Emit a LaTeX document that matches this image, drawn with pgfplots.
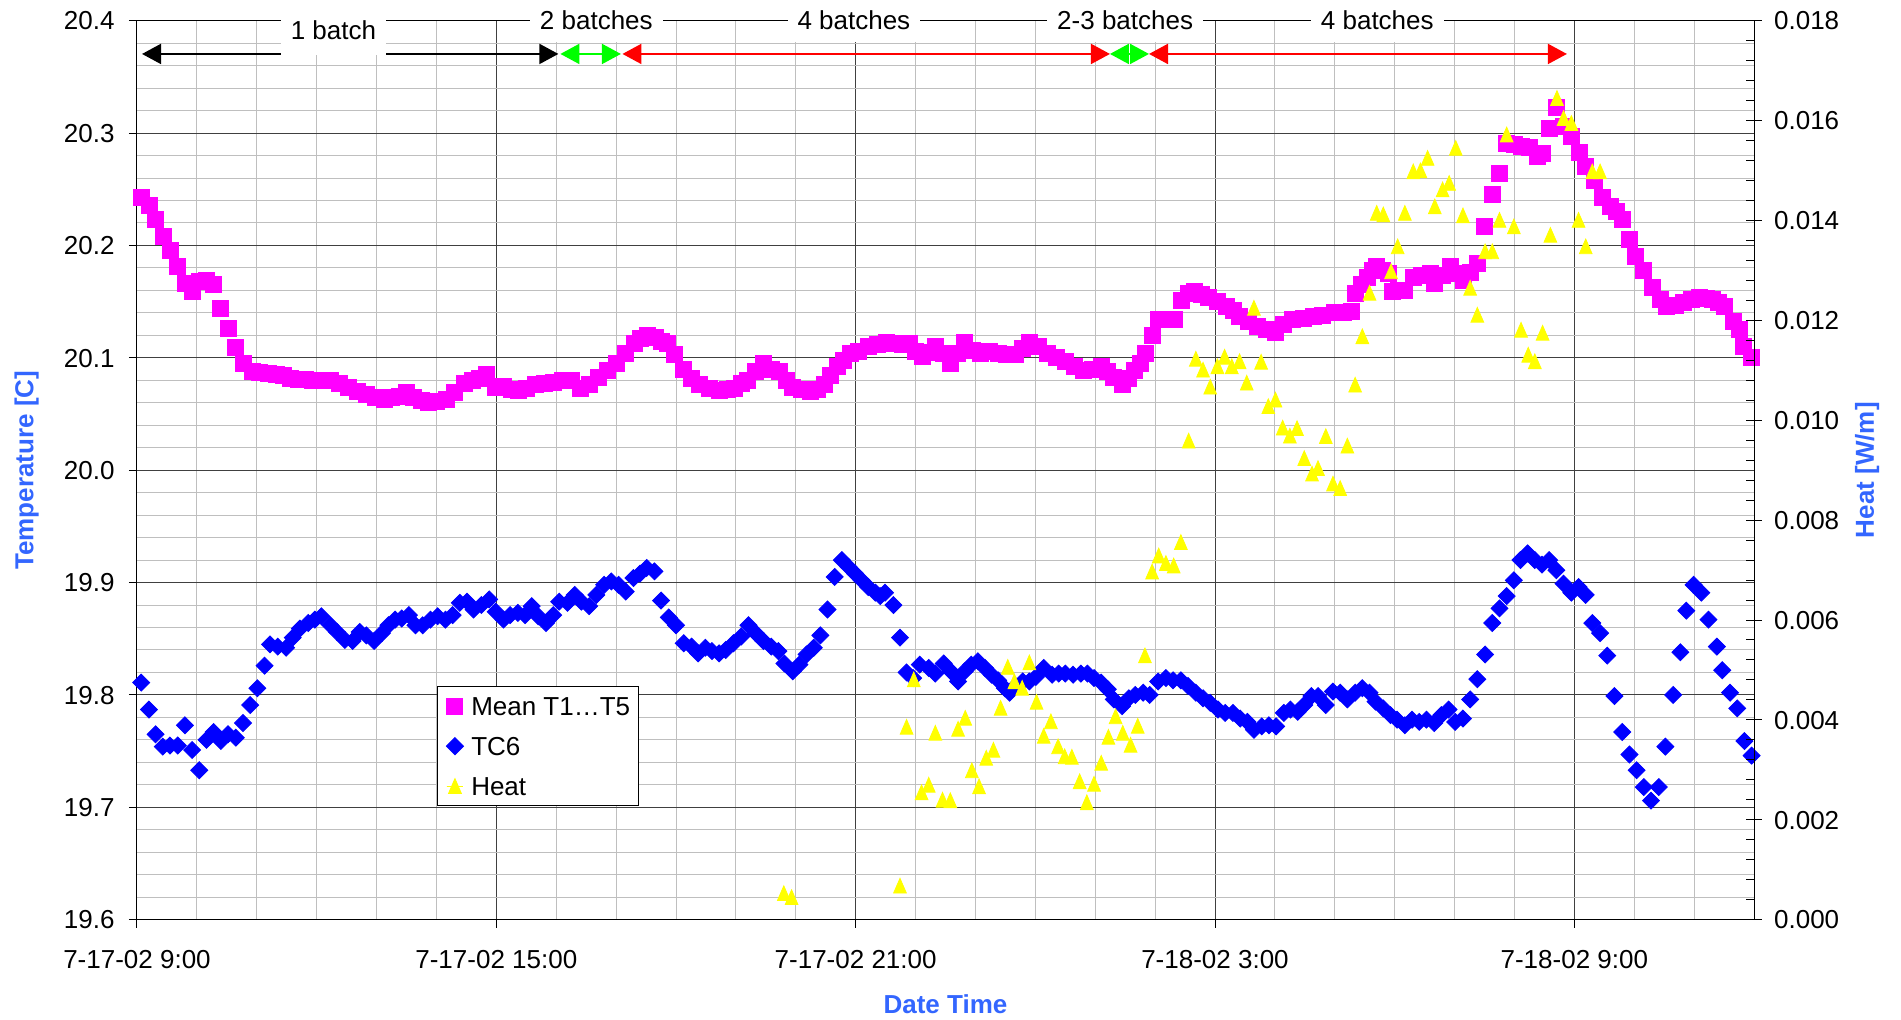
\documentclass[border=0pt]{standalone}
\usepackage{pgfplots}
\pgfplotsset{compat=1.18}
\usepackage{fontspec}
\setmainfont{Liberation Sans}
\usetikzlibrary{arrows.meta}
\definecolor{pinkc}{RGB}{255,0,255}
\definecolor{bluec}{RGB}{0,0,255}
\definecolor{yellowc}{RGB}{255,255,0}
\definecolor{labc}{RGB}{51,102,255}
\definecolor{greenc}{RGB}{0,255,0}
\definecolor{redc}{RGB}{255,0,0}
\newcommand{\ff}{\fontsize{13}{15.6}\selectfont}
\begin{document}
\begin{tikzpicture}
\begin{axis}[
  scale only axis, width=808.5pt, height=449.5pt,
  xmin=0, xmax=27, ymin=19.6, ymax=20.4, clip=false,
  xtick={0,6,12,18,24},
  xticklabels={7-17-02 9:00,7-17-02 15:00,7-17-02 21:00,7-18-02 3:00,7-18-02 9:00},
  minor xtick={1,2,3,4,5,7,8,9,10,11,13,14,15,16,17,19,20,21,22,23,25,26,27},
  ytick={19.6,19.7,19.8,19.9,20.0,20.1,20.2,20.3,20.4},
  minor ytick={19.62,19.64,19.66,19.68,19.72,19.74,19.76,19.78,19.82,19.84,19.86,19.88,19.92,19.94,19.96,19.98,20.02,20.04,20.06,20.08,20.12,20.14,20.16,20.18,20.22,20.24,20.26,20.28,20.32,20.34,20.36,20.38},
  grid=both,
  major grid style={black!75, line width=0.5pt},
  minor grid style={black!25, line width=0.5pt},
  tick align=outside, major tick length=4pt, minor tick length=0pt,
  xtick pos=bottom, ytick pos=left,
  axis line style={black, line width=0.5pt},
  tick style={black, line width=0.5pt},
  /pgf/number format/assume math mode=true,
  tick label style={font=\ff},
  yticklabel style={/pgf/number format/fixed, /pgf/number format/precision=1, /pgf/number format/fixed zerofill, anchor=east, inner sep=0pt, text height=9.3pt, text depth=0pt, xshift=-7pt},
  xticklabel style={anchor=north, inner sep=0pt, text height=9.3pt, text depth=0pt, yshift=-11pt},
  xlabel={Date Time}, ylabel={Temperature [C]},
  label style={font=\bfseries\ff, color=labc},
  xlabel style={at={(axis description cs:0.5,-0.0945)}, anchor=center},
  ylabel style={at={(axis description cs:-0.0682,0.5)}, anchor=center},
]
\addplot[only marks, mark=square*, mark size=4pt, color=pinkc] table[row sep=\\] {
x y\\
0.07 20.243\\ 0.20 20.236\\ 0.31 20.223\\ 0.44 20.208\\ 0.55 20.196\\ 0.68 20.181\\ 0.80 20.166\\ 0.92 20.159\\
1.04 20.168\\ 1.16 20.169\\ 1.28 20.165\\ 1.40 20.144\\ 1.52 20.126\\ 1.65 20.109\\ 1.78 20.095\\ 1.92 20.088\\
2.05 20.087\\ 2.19 20.086\\ 2.32 20.085\\ 2.45 20.084\\ 2.56 20.082\\ 2.70 20.081\\ 2.82 20.081\\ 2.93 20.080\\
3.08 20.080\\ 3.23 20.080\\ 3.38 20.077\\ 3.53 20.074\\ 3.68 20.070\\ 3.83 20.067\\ 3.98 20.065\\ 4.13 20.063\\
4.25 20.065\\ 4.38 20.066\\ 4.50 20.069\\ 4.62 20.065\\ 4.75 20.062\\ 4.87 20.060\\ 5.00 20.061\\ 5.17 20.063\\
5.30 20.069\\ 5.47 20.077\\ 5.60 20.080\\ 5.72 20.082\\ 5.84 20.085\\ 5.99 20.074\\ 6.12 20.075\\ 6.25 20.072\\
6.37 20.071\\ 6.50 20.073\\ 6.66 20.076\\ 6.80 20.077\\ 6.95 20.078\\ 7.11 20.080\\ 7.25 20.080\\ 7.41 20.073\\
7.55 20.076\\ 7.71 20.083\\ 7.86 20.089\\ 8.01 20.095\\ 8.16 20.104\\ 8.31 20.113\\ 8.40 20.117\\ 8.52 20.120\\
8.65 20.118\\ 8.75 20.115\\ 8.86 20.113\\ 8.98 20.103\\ 9.12 20.090\\ 9.25 20.082\\ 9.39 20.076\\ 9.55 20.073\\
9.72 20.071\\ 9.85 20.072\\ 9.98 20.073\\ 10.10 20.077\\ 10.20 20.080\\ 10.33 20.088\\ 10.46 20.095\\ 10.59 20.090\\
10.72 20.088\\ 10.85 20.080\\ 10.95 20.074\\ 11.10 20.072\\ 11.25 20.070\\ 11.36 20.072\\ 11.47 20.076\\ 11.58 20.084\\
11.69 20.092\\ 11.80 20.098\\ 11.92 20.104\\ 12.05 20.106\\ 12.21 20.110\\ 12.36 20.112\\ 12.51 20.114\\ 12.65 20.113\\
12.78 20.112\\ 12.89 20.113\\ 13.00 20.106\\ 13.11 20.101\\ 13.22 20.105\\ 13.33 20.110\\ 13.46 20.104\\ 13.59 20.095\\
13.70 20.104\\ 13.82 20.114\\ 13.95 20.107\\ 14.08 20.104\\ 14.23 20.106\\ 14.38 20.104\\ 14.52 20.103\\ 14.67 20.103\\
14.78 20.108\\ 14.90 20.114\\ 15.05 20.110\\ 15.20 20.104\\ 15.35 20.100\\ 15.50 20.097\\ 15.65 20.092\\ 15.80 20.089\\
15.95 20.090\\ 16.10 20.092\\ 16.20 20.088\\ 16.31 20.083\\ 16.46 20.076\\ 16.55 20.082\\ 16.65 20.089\\ 16.75 20.095\\
16.83 20.104\\ 16.95 20.120\\ 17.06 20.134\\ 17.20 20.134\\ 17.33 20.134\\ 17.44 20.151\\ 17.55 20.157\\ 17.66 20.159\\
17.78 20.156\\ 17.89 20.154\\ 18.04 20.150\\ 18.19 20.146\\ 18.30 20.142\\ 18.40 20.137\\ 18.55 20.132\\ 18.70 20.128\\
18.85 20.125\\ 19.01 20.123\\ 19.15 20.130\\ 19.30 20.134\\ 19.47 20.135\\ 19.64 20.137\\ 19.80 20.138\\ 19.99 20.140\\
20.14 20.140\\ 20.27 20.141\\ 20.34 20.157\\ 20.44 20.165\\ 20.54 20.172\\ 20.62 20.178\\ 20.69 20.181\\ 20.80 20.178\\
20.90 20.175\\ 20.96 20.159\\ 21.06 20.160\\ 21.17 20.160\\ 21.31 20.172\\ 21.45 20.173\\ 21.59 20.175\\ 21.66 20.166\\
21.80 20.173\\ 21.93 20.181\\ 22.04 20.175\\ 22.14 20.169\\ 22.26 20.176\\ 22.38 20.184\\ 22.49 20.217\\ 22.63 20.245\\
22.75 20.264\\ 22.87 20.291\\ 23.00 20.290\\ 23.12 20.288\\ 23.25 20.287\\ 23.39 20.279\\ 23.46 20.282\\ 23.58 20.304\\
23.70 20.323\\ 23.81 20.306\\ 23.95 20.297\\ 24.09 20.283\\ 24.19 20.270\\ 24.33 20.258\\ 24.47 20.243\\ 24.60 20.235\\
24.70 20.230\\ 24.81 20.223\\ 24.92 20.205\\ 25.02 20.190\\ 25.16 20.178\\ 25.30 20.163\\ 25.44 20.152\\ 25.54 20.146\\
25.68 20.147\\ 25.82 20.149\\ 25.95 20.152\\ 26.09 20.154\\ 26.20 20.153\\ 26.31 20.152\\ 26.41 20.149\\ 26.51 20.146\\
26.66 20.132\\ 26.75 20.125\\ 26.83 20.110\\ 26.96 20.100\\
};
\addplot[only marks, mark=diamond*, mark size=4.25pt, mark options={xscale=1.333}, color=bluec] table[row sep=\\] {
x y\\
0.07 19.811\\ 0.20 19.787\\ 0.31 19.765\\ 0.43 19.754\\ 0.55 19.755\\ 0.68 19.755\\ 0.80 19.773\\ 0.92 19.751\\
1.04 19.733\\ 1.16 19.760\\ 1.28 19.767\\ 1.40 19.759\\ 1.52 19.765\\ 1.65 19.762\\ 1.77 19.775\\ 1.89 19.791\\
2.01 19.806\\ 2.13 19.826\\ 2.22 19.845\\ 2.35 19.843\\ 2.49 19.842\\ 2.60 19.851\\ 2.72 19.859\\ 2.86 19.864\\
2.97 19.867\\ 3.08 19.870\\ 3.23 19.862\\ 3.34 19.856\\ 3.47 19.849\\ 3.60 19.848\\ 3.72 19.856\\ 3.83 19.853\\
3.96 19.848\\ 4.09 19.855\\ 4.20 19.862\\ 4.31 19.867\\ 4.42 19.868\\ 4.54 19.871\\ 4.65 19.862\\ 4.77 19.862\\
4.90 19.867\\ 5.02 19.870\\ 5.15 19.867\\ 5.27 19.871\\ 5.39 19.882\\ 5.51 19.883\\ 5.62 19.876\\ 5.75 19.880\\
5.88 19.885\\ 5.99 19.874\\ 6.12 19.867\\ 6.23 19.871\\ 6.36 19.873\\ 6.48 19.871\\ 6.59 19.879\\ 6.70 19.870\\
6.83 19.864\\ 6.95 19.871\\ 7.05 19.883\\ 7.19 19.882\\ 7.31 19.889\\ 7.42 19.883\\ 7.55 19.879\\ 7.67 19.889\\
7.80 19.898\\ 7.92 19.901\\ 8.04 19.898\\ 8.16 19.892\\ 8.29 19.904\\ 8.40 19.908\\ 8.51 19.913\\ 8.64 19.910\\
8.75 19.884\\ 8.88 19.869\\ 9.00 19.862\\ 9.13 19.846\\ 9.26 19.843\\ 9.37 19.837\\ 9.49 19.842\\ 9.60 19.839\\
9.72 19.837\\ 9.83 19.840\\ 9.96 19.846\\ 10.09 19.852\\ 10.21 19.862\\ 10.33 19.855\\ 10.46 19.848\\ 10.59 19.843\\
10.71 19.839\\ 10.81 19.828\\ 10.95 19.821\\ 11.06 19.827\\ 11.18 19.836\\ 11.30 19.842\\ 11.41 19.853\\ 11.53 19.876\\
11.65 19.905\\ 11.77 19.920\\ 11.88 19.914\\ 11.99 19.908\\ 12.10 19.902\\ 12.21 19.896\\ 12.33 19.891\\ 12.41 19.888\\
12.49 19.891\\ 12.63 19.880\\ 12.74 19.851\\ 12.85 19.820\\ 12.96 19.815\\ 13.07 19.827\\ 13.22 19.824\\ 13.33 19.819\\
13.47 19.828\\ 13.59 19.821\\ 13.71 19.812\\ 13.82 19.821\\ 13.93 19.827\\ 14.04 19.830\\ 14.16 19.824\\ 14.27 19.818\\
14.38 19.813\\ 14.49 19.806\\ 14.57 19.802\\ 14.67 19.808\\ 14.79 19.812\\ 14.90 19.812\\ 15.01 19.816\\ 15.14 19.824\\
15.28 19.818\\ 15.39 19.819\\ 15.50 19.819\\ 15.63 19.818\\ 15.76 19.819\\ 15.87 19.819\\ 15.98 19.815\\ 16.10 19.811\\
16.21 19.805\\ 16.31 19.796\\ 16.45 19.790\\ 16.56 19.797\\ 16.67 19.800\\ 16.80 19.802\\ 16.91 19.800\\ 17.05 19.812\\
17.18 19.815\\ 17.30 19.813\\ 17.43 19.813\\ 17.55 19.808\\ 17.68 19.802\\ 17.80 19.797\\ 17.92 19.793\\ 18.05 19.787\\
18.17 19.784\\ 18.30 19.784\\ 18.42 19.779\\ 18.54 19.776\\ 18.65 19.769\\ 18.78 19.772\\ 18.90 19.773\\ 19.02 19.772\\
19.15 19.784\\ 19.26 19.787\\ 19.38 19.785\\ 19.49 19.791\\ 19.61 19.799\\ 19.72 19.799\\ 19.85 19.791\\ 19.97 19.803\\
20.09 19.802\\ 20.21 19.796\\ 20.34 19.802\\ 20.46 19.806\\ 20.58 19.802\\ 20.68 19.794\\ 20.81 19.788\\ 20.93 19.782\\
21.04 19.778\\ 21.17 19.773\\ 21.29 19.778\\ 21.41 19.776\\ 21.53 19.778\\ 21.66 19.775\\ 21.78 19.782\\ 21.90 19.787\\
22.01 19.776\\ 22.14 19.779\\ 22.26 19.796\\ 22.38 19.814\\ 22.51 19.836\\ 22.63 19.864\\ 22.75 19.877\\ 22.87 19.888\\
22.99 19.902\\ 23.10 19.920\\ 23.22 19.926\\ 23.34 19.920\\ 23.46 19.916\\ 23.58 19.920\\ 23.70 19.911\\ 23.82 19.899\\
23.95 19.891\\ 24.07 19.896\\ 24.19 19.889\\ 24.30 19.864\\ 24.43 19.855\\ 24.55 19.835\\ 24.67 19.799\\ 24.80 19.767\\
24.92 19.747\\ 25.04 19.733\\ 25.16 19.718\\ 25.28 19.706\\ 25.41 19.718\\ 25.52 19.754\\ 25.65 19.800\\ 25.77 19.838\\
25.87 19.875\\ 25.99 19.898\\ 26.12 19.891\\ 26.24 19.867\\ 26.38 19.843\\ 26.47 19.822\\ 26.60 19.802\\ 26.72 19.788\\
26.84 19.759\\ 26.96 19.746\\
};
\coordinate (SW) at (rel axis cs:0,0);
\coordinate (NE) at (rel axis cs:1,1);
\coordinate (a0) at (axis cs:0.084,20.3704);
\coordinate (a1) at (axis cs:7.036,20.3704);
\coordinate (a2) at (axis cs:7.07,20.3704);
\coordinate (a3) at (axis cs:8.08,20.3704);
\coordinate (a4) at (axis cs:8.106,20.3704);
\coordinate (a5) at (axis cs:16.246,20.3704);
\coordinate (a6) at (axis cs:16.898,20.3704);
\coordinate (a7) at (axis cs:23.876,20.3704);
\coordinate (t1) at (axis cs:3.28,20.3917);
\coordinate (t2) at (axis cs:7.67,20.4002);
\coordinate (t3) at (axis cs:11.97,20.4002);
\coordinate (t4) at (axis cs:16.50,20.4002);
\coordinate (t5) at (axis cs:20.71,20.4002);
\end{axis}
\begin{axis}[
  scale only axis, width=808.5pt, height=449.5pt,
  xmin=0, xmax=27, ymin=0, ymax=0.018, clip=false,
  axis x line=none, axis y line*=right,
  ytick={0,0.002,0.004,0.006,0.008,0.010,0.012,0.014,0.016,0.018},
  minor ytick={0.0004,0.0008,0.0012,0.0016,0.0024,0.0028,0.0032,0.0036,0.0044,0.0048,0.0052,0.0056,0.0064,0.0068,0.0072,0.0076,0.0084,0.0088,0.0092,0.0096,0.0104,0.0108,0.0112,0.0116,0.0124,0.0128,0.0132,0.0136,0.0144,0.0148,0.0152,0.0156,0.0164,0.0168,0.0172,0.0176},
  ytick align=center, major tick length=7.7pt, minor tick length=3.8pt,
  minor tick style={xshift=-1.9pt},
  axis line style={black, line width=0.5pt},
  tick style={black, line width=0.5pt},
  scaled y ticks=false,
  /pgf/number format/assume math mode=true,
  tick label style={font=\ff},
  yticklabel style={/pgf/number format/fixed, /pgf/number format/precision=3, /pgf/number format/fixed zerofill, anchor=west, inner sep=0pt, text height=9.3pt, text depth=0pt, xshift=6pt},
  ylabel={Heat [W/m]},
  label style={font=\bfseries\ff, color=labc},
  ylabel style={at={(axis description cs:1.070,0.5)}, anchor=center},
  legend cell align=left,
  legend image code/.code={\draw[#1] plot coordinates {(4pt,0pt)}; \path (0pt,0pt) rectangle (8pt,0pt);},
  legend style={at={(0.1858,0.2595)}, anchor=north west, draw=black, fill=white, line width=0.5pt,
    font=\ff, inner xsep=4.25pt, inner ysep=5pt, row sep=10.7pt,
    /tikz/every odd column/.style={column sep=3.9pt},
    nodes={inner sep=0pt, text height=9.3pt, text depth=0pt}},
]
\addlegendimage{only marks, mark=square*, mark size=4pt, color=pinkc}
\addlegendentry{Mean T1…T5}
\addlegendimage{only marks, mark=diamond*, mark size=4.25pt, mark options={xscale=1.333}, color=bluec}
\addlegendentry{TC6}
\addplot[only marks, mark=triangle*, mark size=4.9pt, mark options={xscale=0.75, yshift=-1.2pt}, color=yellowc] table[row sep=\\] {
x y\\
10.80 0.00053\\ 10.93 0.00045\\ 12.74 0.00068\\ 12.85 0.00386\\ 12.97 0.00481\\ 13.10 0.00255\\ 13.22 0.00270\\ 13.33 0.00374\\
13.45 0.00240\\ 13.58 0.00239\\ 13.71 0.00382\\ 13.83 0.00404\\ 13.94 0.00299\\ 14.06 0.00267\\ 14.18 0.00324\\ 14.30 0.00340\\
14.42 0.00424\\ 14.54 0.00506\\ 14.65 0.00477\\ 14.78 0.00464\\ 14.90 0.00515\\ 15.02 0.00436\\ 15.14 0.00368\\ 15.26 0.00397\\
15.38 0.00347\\ 15.49 0.00327\\ 15.61 0.00326\\ 15.74 0.00277\\ 15.86 0.00235\\ 15.98 0.00272\\ 16.10 0.00314\\ 16.22 0.00366\\
16.34 0.00407\\ 16.46 0.00374\\ 16.59 0.00350\\ 16.71 0.00388\\ 16.83 0.00529\\ 16.95 0.00697\\ 17.06 0.00729\\ 17.18 0.00714\\
17.31 0.00709\\ 17.43 0.00756\\ 17.56 0.00959\\ 17.68 0.01123\\ 17.80 0.01101\\ 17.92 0.01067\\ 18.04 0.01108\\ 18.16 0.01127\\
18.28 0.01108\\ 18.41 0.01118\\ 18.53 0.01075\\ 18.65 0.01225\\ 18.77 0.01117\\ 18.89 0.01028\\ 19.01 0.01041\\ 19.13 0.00985\\
19.25 0.00969\\ 19.37 0.00984\\ 19.49 0.00924\\ 19.62 0.00893\\ 19.72 0.00904\\ 19.85 0.00968\\ 19.97 0.00873\\ 20.09 0.00864\\
20.21 0.00949\\ 20.34 0.01071\\ 20.46 0.01168\\ 20.58 0.01255\\ 20.70 0.01415\\ 20.81 0.01412\\ 20.94 0.01298\\ 21.05 0.01348\\
21.17 0.01415\\ 21.31 0.01498\\ 21.43 0.01500\\ 21.55 0.01525\\ 21.67 0.01428\\ 21.80 0.01462\\ 21.91 0.01475\\ 22.02 0.01545\\
22.14 0.01410\\ 22.26 0.01265\\ 22.38 0.01211\\ 22.51 0.01338\\ 22.63 0.01338\\ 22.75 0.01401\\ 22.87 0.01572\\ 22.99 0.01388\\
23.11 0.01181\\ 23.23 0.01131\\ 23.34 0.01118\\ 23.47 0.01175\\ 23.60 0.01371\\ 23.71 0.01645\\ 23.82 0.01605\\ 23.95 0.01595\\
24.07 0.01401\\ 24.19 0.01348\\ 24.30 0.01498\\ 24.43 0.01498\\
};
\addlegendentry{Heat}
\end{axis}
\tikzset{arr/.style={line width=1pt, {Triangle[length=9.5pt,width=10pt]}-{Triangle[length=9.5pt,width=10pt]}}}
\draw[arr, black] (a0) -- (a1);
\draw[arr, greenc] (a2) -- (a3);
\draw[arr, redc] (a4) -- (a5);
\draw[arr, greenc] (a5) -- (a6);
\draw[arr, redc] (a6) -- (a7);
\tikzset{blab/.style={fill=white, font=\ff, inner xsep=5pt, inner ysep=6.1pt, text height=9.3pt, text depth=0pt, anchor=center}}
\node[blab, inner ysep=7.85pt] at (t1) {1 batch};
\node[blab] at (t2) {2 batches};
\node[blab] at (t3) {4 batches};
\node[blab] at (t4) {2-3 batches};
\node[blab] at (t5) {4 batches};
\pgfresetboundingbox
\path[use as bounding box] ([shift={(-68.5pt,-50pt)}]SW) rectangle ([shift={(73.5pt,10.35pt)}]NE);
\end{tikzpicture}
\end{document}
